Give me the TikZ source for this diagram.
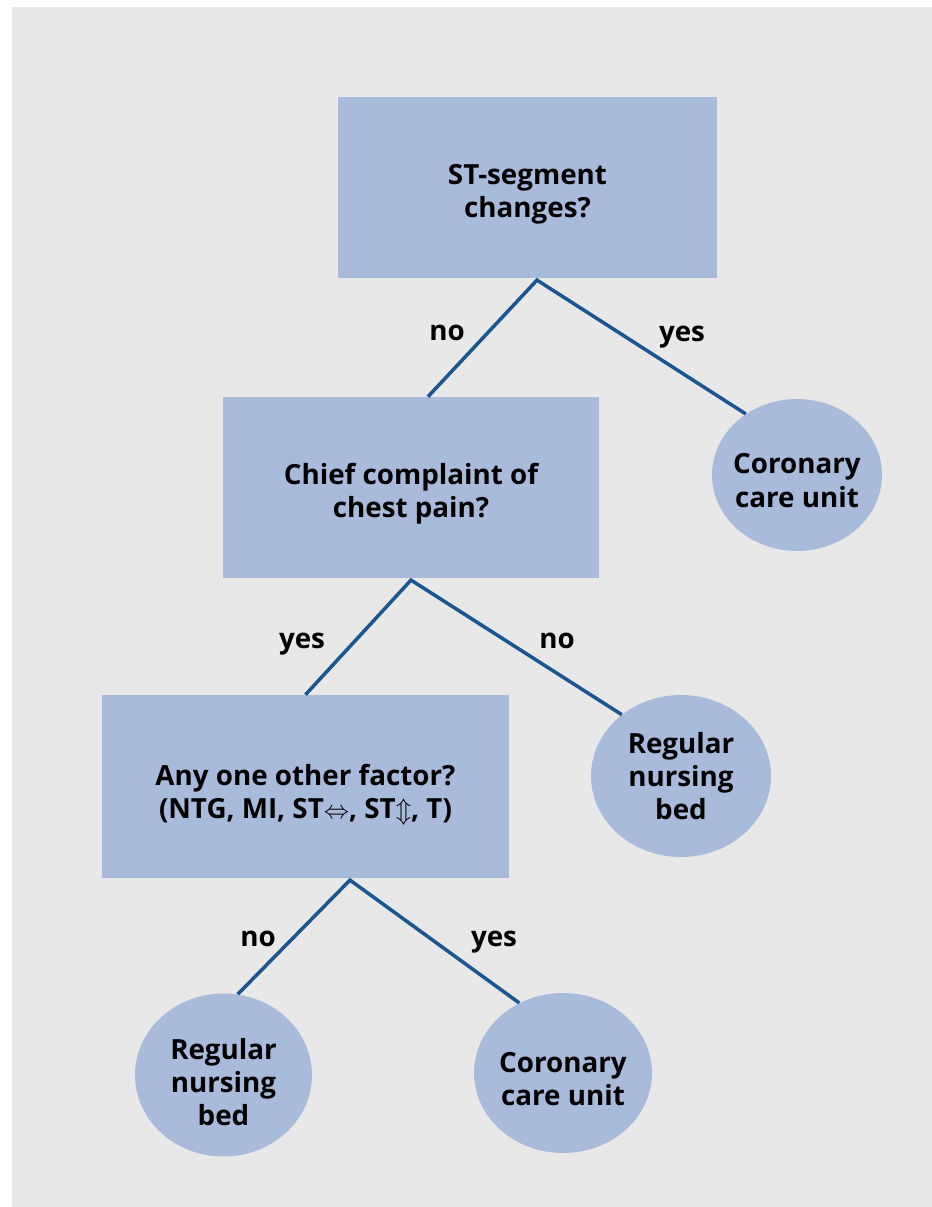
\documentclass[tikz,border=0pt]{standalone}
\usepackage{fontspec}
\setmainfont{Open Sans}
\usetikzlibrary{shapes.geometric}
\definecolor{boxblue}{RGB}{169,187,218}
\definecolor{edgeblue}{RGB}{26,86,145}
\definecolor{paper}{RGB}{232,232,232}
\newcommand{\treefont}{\fontsize{15.8}{19}\selectfont\bfseries}
% strut that pushes a text block down a little
\newcommand{\lift}[1]{\rule{0pt}{#1}}
\tikzset{
 question/.style={fill=boxblue, align=center, inner sep=0, font=\treefont},
 outcome/.style={ellipse, fill=boxblue, align=center, inner sep=-4pt, font=\treefont},
 branch/.style={edgeblue, line width=2pt, line join=miter},
 answer/.style={anchor=base, inner sep=0, font=\treefont}
}

\begin{document}
\begin{tikzpicture}[x=0.02cm, y=-0.02cm]
\fill[white] (0,0) rectangle (932,1207);
\fill[paper] (12,7) rectangle (932,1207);

% questions
\node[question, minimum width=7.58cm, minimum height=3.62cm] (st) at (527.5,187.5) {\lift{19pt}ST-segment\\changes?};
\node[question, minimum width=7.52cm, minimum height=3.62cm] (chest) at (411,487.5) {\lift{19.5pt}Chief complaint of\\chest pain?};
\node[question, minimum width=8.16cm, minimum height=3.66cm] (other) at (305.5,786.5)
 {\lift{21pt}Any one other factor?\\(NTG, MI, ST$\Leftrightarrow$, ST$\Updownarrow$, T)};

% outcomes
\node[outcome, minimum width=3.4cm, minimum height=3.04cm] (ccuA) at (797,475) {\lift{18pt}Coronary\\care unit};
\node[outcome, minimum width=3.6cm, minimum height=3.24cm] (bedA) at (681,776) {Regular\\nursing\\bed};
\node[outcome, minimum width=3.54cm, minimum height=3.26cm] (bedB) at (223.5,1075) {\lift{20pt}Regular\\nursing\\bed};
\node[outcome, minimum width=3.56cm, minimum height=3.2cm] (ccuB) at (563,1073) {\lift{18pt}Coronary\\care unit};

% branches
\coordinate (st-tip) at ([xshift=0.19cm,yshift=-1pt]st.south);
\coordinate (chest-tip) at ([yshift=-1pt]chest.south);
\coordinate (other-tip) at ([xshift=0.89cm,yshift=-1pt]other.south);
\draw[branch] ([xshift=0.34cm]chest.north) -- (st-tip) -- (ccuA.130);
\draw[branch] (other.north) -- (chest-tip) -- (bedA.134);
\draw[branch] (bedB.80) -- (other-tip) -- (ccuB.122);

\foreach \x/\y/\t in {447/340/no, 682/341/yes, 302/648/yes, 557/648/no, 258/946/no, 494/946/yes}
 \node[answer] (ans-\x) at (\x,\y) {\t};
\end{tikzpicture}
\end{document}
